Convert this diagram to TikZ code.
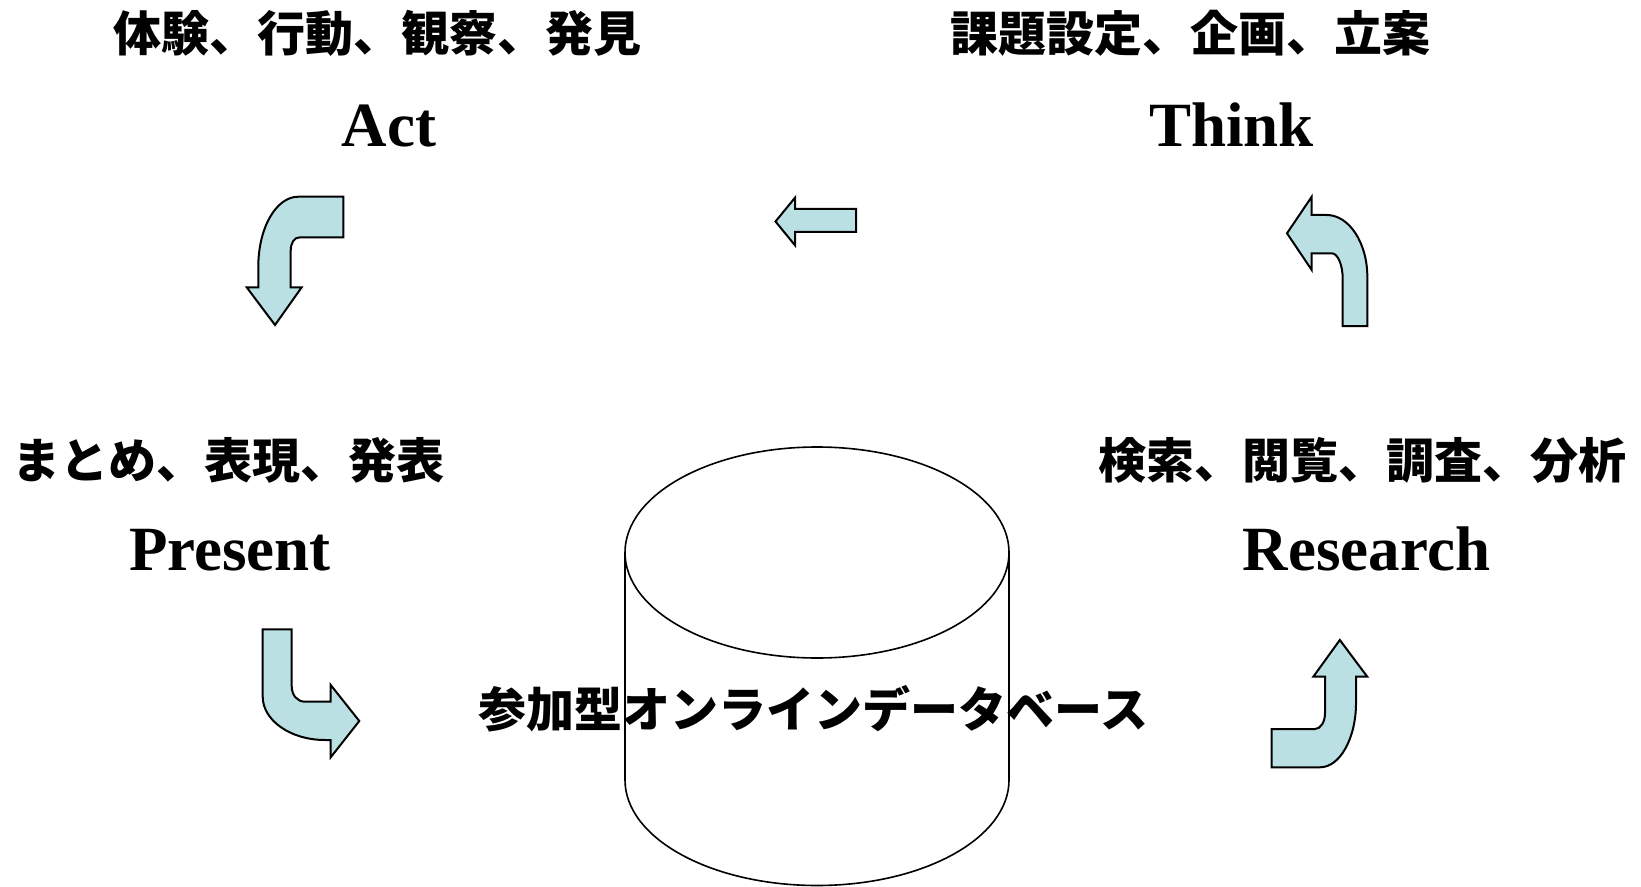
\documentclass[tikz,border=0pt]{standalone}
\usepackage{fontspec}
\setmainfont{Liberation Serif}
\newfontfamily\jp{Noto Sans CJK JP}
\definecolor{arrowfill}{RGB}{187,224,228}
\tikzset{
  jptext/.style={font=\jp\bfseries\fontsize{24}{28}\selectfont, anchor=base, inner sep=0pt},
  entext/.style={font=\bfseries\fontsize{31.5}{36}\selectfont, anchor=base, inner sep=0pt},
  bentarrow/.style={draw=black, line width=1pt, fill=arrowfill, line join=miter},
  cyl/.style={draw=black, line width=0.8pt}
}
\begin{document}
\begin{tikzpicture}[x=0.5pt, y=-0.5pt]
\useasboundingbox (0,0) rectangle (1641,887);

% texts
\node[jptext] (actjp) at (377.8,52) {体験、行動、観察、発見};
\node[entext] (act) at (388.8,146.5) {Act};
\node[jptext] (thinkjp) at (1190.3,52) {課題設定、企画、立案};
\node[entext] (think) at (1231.4,146.5) {Think};
\node[jptext] (presjp) at (228.7,478) {まとめ、表現、発表};
\node[entext] (pres) at (230,570) {Present};
\node[jptext] (resjp) at (1362,478) {検索、閲覧、調査、分析};
\node[entext] (res) at (1366.4,570) {Research};

% cylinder
\coordinate (cylc) at (817,552.5);
\draw[cyl] (817,552.5) ellipse [x radius=192, y radius=105.5];
\draw[cyl] (625,552.5) -- (625,780) arc[start angle=180, end angle=0, x radius=192, y radius=105.5] -- (1009,552.5);
\node[jptext] (db) at (813.5,727.5) {参加型オンラインデータベース};

% arrow top-left (down)
\draw[bentarrow] (343.3,196.7) -- (343.3,237.3) -- (300,237.3)
  .. controls (294,237.3) and (290.7,243) .. (290.7,251)
  -- (290.7,287.3) -- (301.7,287.3) -- (275,325) -- (246.7,287.3) -- (258.3,287.3)
  -- (258.3,266.7) .. controls (258.3,228) and (276,196.7) .. (298.3,196.7) -- cycle;

% arrow top-middle (left)
\draw[bentarrow] (856,209) -- (795,209) -- (795,197.7) -- (775.5,221.5) -- (795,245.3) -- (795,232) -- (856,232) -- cycle;

% arrow top-right (up-left)
\draw[bentarrow] (1367.3,326) -- (1367.3,276.7)
  .. controls (1367.3,242.8) and (1349,215) .. (1326.7,215)
  -- (1311.7,215) -- (1311.7,196.7) -- (1287,233.3) -- (1311.7,270) -- (1311.7,253.3)
  -- (1331.7,253.3) .. controls (1337.8,253.3) and (1342.7,265) .. (1342.7,279)
  -- (1342.7,326) -- cycle;

% arrow bottom-left (down-right)
\draw[bentarrow] (262.7,629.3) -- (291.7,629.3) -- (291.7,686)
  .. controls (291.7,695) and (297,701.7) .. (305,701.7)
  -- (330.7,701.7) -- (330.7,685) -- (359.3,721) -- (330.7,757.3) -- (330.7,740)
  -- (325,740) .. controls (290,740) and (262.7,720) .. (262.7,696.7) -- cycle;

% arrow bottom-right (up-right)
\draw[bentarrow] (1271.5,729) -- (1315,729)
  .. controls (1320.5,729) and (1325,722) .. (1325,713)
  -- (1325,676.7) -- (1313.3,676.7) -- (1339.8,640) -- (1367.3,676.7) -- (1356,676.7)
  -- (1356,703) .. controls (1356,738) and (1340,767.3) .. (1320,767.3)
  -- (1271.5,767.3) -- cycle;
\end{tikzpicture}
\end{document}
